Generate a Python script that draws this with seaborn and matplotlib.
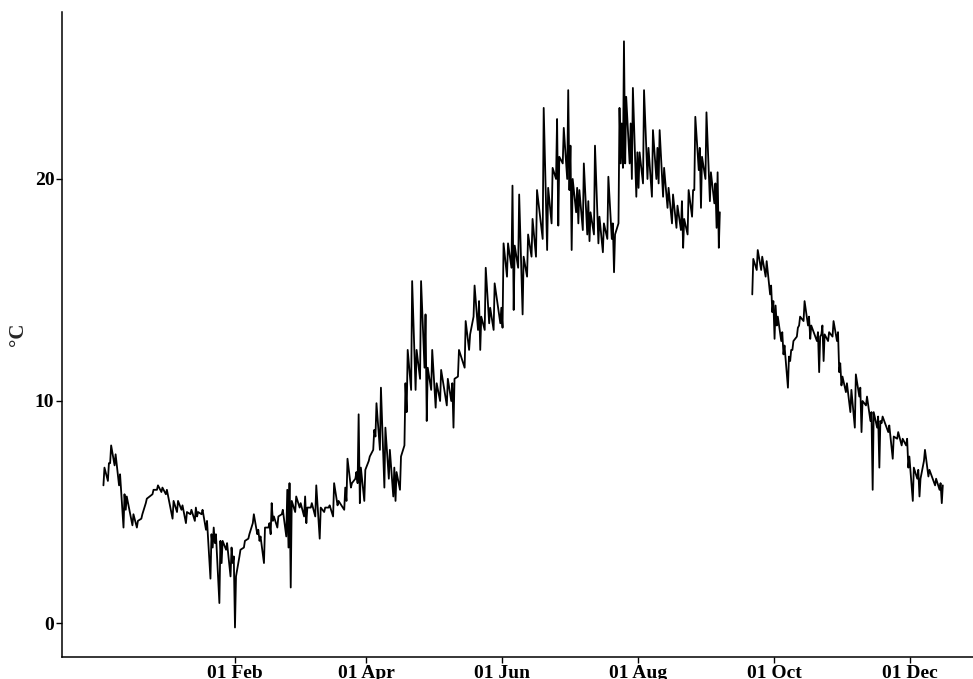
import pandas as pd
import seaborn as sns
import matplotlib.pyplot as plt
import matplotlib.dates as mdates

# daily-ish readings: date, lowest and highest temperature (°C)
dates = [
    "2018-12-04", "2018-12-06", "2018-12-07", "2018-12-09", "2018-12-11", "2018-12-13",
    "2018-12-14", "2018-12-17", "2018-12-19", "2018-12-21", "2018-12-23", "2018-12-26",
    "2018-12-28", "2018-12-30", "2019-01-01", "2019-01-04", "2019-01-06", "2019-01-08",
    "2019-01-10", "2019-01-12", "2019-01-14", "2019-01-15", "2019-01-17", "2019-01-19",
    "2019-01-21", "2019-01-22", "2019-01-23", "2019-01-25", "2019-01-26", "2019-01-28",
    "2019-01-30", "2019-01-31", "2019-02-01", "2019-02-03", "2019-02-05", "2019-02-07",
    "2019-02-09", "2019-02-11", "2019-02-12", "2019-02-14", "2019-02-16", "2019-02-17",
    "2019-02-18", "2019-02-20", "2019-02-22", "2019-02-24", "2019-02-25", "2019-02-26",
    "2019-02-28", "2019-03-02", "2019-03-04", "2019-03-05", "2019-03-07", "2019-03-09",
    "2019-03-11", "2019-03-13", "2019-03-15", "2019-03-17", "2019-03-19", "2019-03-22",
    "2019-03-23", "2019-03-25", "2019-03-27", "2019-03-28", "2019-03-29", "2019-03-31",
    "2019-04-02", "2019-04-04", "2019-04-05", "2019-04-07", "2019-04-09", "2019-04-11",
    "2019-04-13", "2019-04-14", "2019-04-16", "2019-04-18", "2019-04-19", "2019-04-21",
    "2019-04-23", "2019-04-25", "2019-04-27", "2019-04-28", "2019-04-30", "2019-05-02",
    "2019-05-04", "2019-05-07", "2019-05-09", "2019-05-10", "2019-05-12", "2019-05-15",
    "2019-05-17", "2019-05-19", "2019-05-21", "2019-05-22", "2019-05-24", "2019-05-26",
    "2019-05-28", "2019-05-31", "2019-06-01", "2019-06-03", "2019-06-05", "2019-06-06",
    "2019-06-08", "2019-06-10", "2019-06-12", "2019-06-14", "2019-06-16", "2019-06-19",
    "2019-06-21", "2019-06-23", "2019-06-25", "2019-06-26", "2019-06-28", "2019-06-30",
    "2019-07-01", "2019-07-02", "2019-07-04", "2019-07-05", "2019-07-07", "2019-07-09",
    "2019-07-10", "2019-07-12", "2019-07-14", "2019-07-16", "2019-07-18", "2019-07-20",
    "2019-07-21", "2019-07-23", "2019-07-24", "2019-07-25", "2019-07-26", "2019-07-28",
    "2019-07-29", "2019-07-31", "2019-08-01", "2019-08-03", "2019-08-05", "2019-08-07",
    "2019-08-09", "2019-08-10", "2019-08-12", "2019-08-14", "2019-08-16", "2019-08-18",
    "2019-08-20", "2019-08-21", "2019-08-23", "2019-08-25", "2019-08-26", "2019-08-28",
    "2019-08-29", "2019-08-31", "2019-09-02", "2019-09-04", "2019-09-05", "2019-09-06",
    # logger gap, then autumn
    "2019-09-21", "2019-09-23", "2019-09-25", "2019-09-27", "2019-09-29", "2019-09-30",
    "2019-10-01", "2019-10-02", "2019-10-04", "2019-10-05", "2019-10-07", "2019-10-08",
    "2019-10-09", "2019-10-11", "2019-10-12", "2019-10-14", "2019-10-16", "2019-10-17",
    "2019-10-20", "2019-10-21", "2019-10-22", "2019-10-23", "2019-10-25", "2019-10-27",
    "2019-10-29", "2019-10-30", "2019-10-31", "2019-11-02", "2019-11-04", "2019-11-06",
    "2019-11-08", "2019-11-09", "2019-11-11", "2019-11-13", "2019-11-14", "2019-11-16",
    "2019-11-17", "2019-11-18", "2019-11-21", "2019-11-23", "2019-11-25", "2019-11-27",
    "2019-11-29", "2019-11-30", "2019-12-02", "2019-12-04", "2019-12-05", "2019-12-07",
    "2019-12-09", "2019-12-12", "2019-12-14", "2019-12-15",
]
lows = [
    6.2, 6.4, 7.2, 7.1, 6.2, 4.3, 5.1, 4.4, 4.3, 4.7, 5.4, 5.8,
    6.0, 5.9, 5.8, 4.7, 5.0, 5.1, 4.5, 4.9, 4.6, 4.8, 4.9, 4.2,
    2.0, 3.4, 3.6, 0.9, 2.7, 3.3, 2.1, 2.7, -0.2, 3.0, 3.4, 3.8,
    4.5, 4.0, 3.7, 2.7, 4.3, 4.0, 4.6, 4.3, 4.9, 3.9, 3.4, 1.6,
    5.0, 5.2, 4.8, 4.5, 5.2, 4.8, 3.8, 5.0, 5.2, 4.8, 5.3, 5.1,
    5.5, 6.1, 6.5, 6.3, 5.4, 5.5, 7.3, 7.8, 8.4, 7.8, 6.1, 6.5,
    5.7, 5.5, 6.0, 8.0, 9.5, 10.5, 10.5, 11.0, 11.5, 9.1, 10.5, 9.7,
    10.0, 9.8, 10.0, 8.8, 11.1, 11.5, 12.3, 13.8, 13.2, 12.3, 13.2, 13.5,
    13.2, 13.5, 13.3, 15.6, 16.0, 14.1, 16.0, 13.9, 15.6, 16.5, 16.5, 17.3,
    16.8, 18.0, 20.0, 17.9, 20.7, 20.0, 19.5, 16.8, 18.5, 18.0, 17.7, 17.5,
    17.2, 17.5, 17.1, 16.7, 17.3, 17.3, 15.8, 18.0, 20.7, 20.5, 20.7, 20.7,
    20.0, 19.2, 19.6, 19.8, 20.0, 19.2, 20.0, 19.8, 19.2, 18.7, 18.0, 17.8,
    17.7, 16.9, 17.5, 18.3, 19.5, 20.4, 18.7, 20.0, 19.0, 18.9, 17.8, 16.9,
    14.8, 15.9, 15.9, 15.6, 14.8, 14.0, 12.8, 13.4, 12.7, 12.1, 10.6, 11.8,
    12.3, 12.9, 13.4, 13.6, 13.4, 12.8, 12.7, 11.3, 13.0, 11.8, 12.7, 12.9,
    12.7, 11.3, 10.7, 10.4, 9.5, 8.8, 10.2, 8.6, 9.8, 9.1, 6.0, 8.8,
    7.0, 9.0, 8.6, 7.4, 8.3, 8.0, 8.0, 7.0, 5.5, 6.5, 5.7, 7.3,
    6.6, 6.2, 6.0, 5.4,
]
highs = [
    7.0, 7.2, 8.0, 7.6, 6.7, 5.8, 5.7, 4.9, 4.6, 4.9, 5.6, 6.0,
    6.2, 6.1, 6.0, 5.5, 5.5, 5.3, 5.0, 5.1, 5.2, 5.0, 5.1, 4.6,
    4.0, 4.3, 4.0, 3.7, 3.7, 3.6, 3.4, 3.0, 2.1, 3.3, 3.7, 4.0,
    4.9, 4.2, 3.9, 4.3, 4.5, 5.4, 4.8, 4.8, 5.1, 6.0, 6.3, 5.5,
    5.7, 5.4, 5.7, 5.2, 5.4, 6.2, 5.2, 5.2, 5.3, 6.3, 5.5, 6.1,
    7.4, 6.3, 6.8, 9.4, 7.0, 6.9, 7.5, 8.7, 9.9, 10.6, 8.8, 7.8,
    7.0, 6.8, 7.5, 10.8, 12.3, 15.4, 12.3, 15.4, 13.9, 11.5, 12.3, 10.8,
    11.4, 11.0, 10.8, 11.0, 12.3, 13.6, 13.0, 15.2, 14.5, 13.8, 16.0, 14.2,
    15.3, 14.2, 17.1, 17.1, 19.7, 17.0, 19.3, 16.5, 17.5, 18.2, 19.5, 23.2,
    19.6, 20.5, 22.7, 21.0, 22.3, 24.0, 21.5, 20.0, 19.6, 19.5, 20.7, 19.0,
    18.5, 21.5, 18.3, 18.0, 20.1, 18.0, 17.5, 23.2, 22.5, 26.2, 23.7, 22.5,
    24.1, 21.2, 21.2, 24.0, 21.4, 22.2, 21.4, 22.2, 20.5, 19.6, 19.3, 18.8,
    19.0, 18.2, 19.5, 19.5, 22.8, 21.4, 21.0, 23.0, 20.3, 19.8, 20.3, 18.5,
    16.4, 16.8, 16.5, 16.3, 15.2, 14.5, 14.3, 13.8, 13.1, 12.5, 12.0, 12.3,
    12.7, 13.3, 13.8, 14.5, 13.8, 13.4, 13.1, 12.9, 13.4, 13.0, 13.1, 13.6,
    13.1, 11.7, 11.1, 10.8, 10.5, 11.2, 10.6, 10.0, 10.2, 9.5, 9.5, 9.3,
    9.1, 9.3, 8.9, 8.4, 8.6, 8.3, 8.3, 7.5, 7.0, 6.9, 6.5, 7.8,
    6.9, 6.5, 6.3, 6.2,
]
gap_start = "2019-09-10"

# two readings per day -> zigzag like the hourly logger trace
day = pd.to_datetime(dates)
df = pd.concat([
    pd.DataFrame({"time": day + pd.Timedelta(hours=4), "temp": lows}),
    pd.DataFrame({"time": day + pd.Timedelta(hours=15), "temp": highs}),
]).sort_values("time").reset_index(drop=True)
df["part"] = (df["time"] > pd.Timestamp(gap_start)).astype(int)

sns.set_theme(style="white")
plt.rcParams["font.family"] = ["Liberation Serif", "DejaVu Serif"]
plt.rcParams["font.weight"] = "bold"

fig = plt.figure(figsize=(9.73, 6.79), dpi=100)
ax = fig.add_axes([62 / 973, 1 - 657 / 679, 1 - 62 / 973, (657 - 12) / 679])

sns.lineplot(data=df, x="time", y="temp", units="part", estimator=None,
             color="black", linewidth=1.3, ax=ax)

ax.set_xlim(pd.Timestamp("2018-11-15 14:00"), pd.Timestamp("2019-12-29 04:00"))
ax.set_ylim(-1.53, 27.52)
ax.set_yticks([0, 10, 20])
ax.set_xticks(pd.to_datetime(["2019-02-01", "2019-04-01", "2019-06-01",
                              "2019-08-01", "2019-10-01", "2019-12-01"]))
ax.xaxis.set_major_formatter(mdates.DateFormatter("%d %b"))

ax.set_xlabel("")
ax.set_ylabel("°C", fontsize=15, fontweight="bold", labelpad=5)
ax.tick_params(axis="both", labelsize=14, colors="black", length=4, width=1,
               direction="out", bottom=True, left=True, pad=1.5)
for lab in ax.get_xticklabels() + ax.get_yticklabels():
    lab.set_fontweight("bold")

sns.despine(ax=ax)
for side in ["left", "bottom"]:
    ax.spines[side].set_color("black")
    ax.spines[side].set_linewidth(1.1)

fig.savefig("out.png", dpi=100)
